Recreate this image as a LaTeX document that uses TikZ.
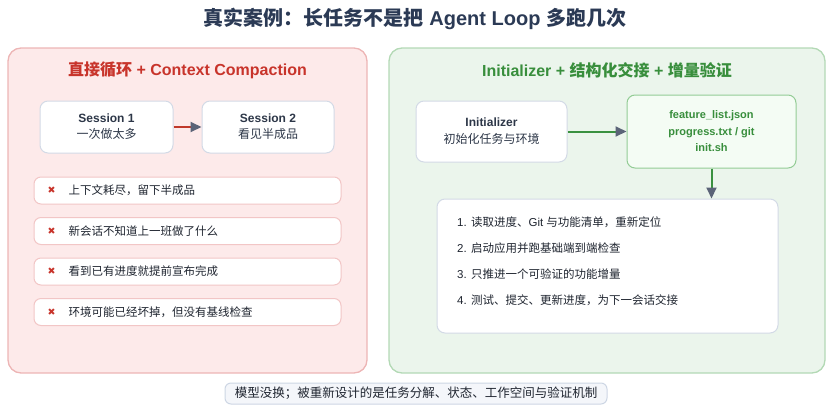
\documentclass[tikz,border=0pt]{standalone}
\usepackage{fontspec}
\setmainfont{Liberation Sans}
\newfontfamily\cjkfont{Noto Sans CJK SC}
\newfontfamily\symfont{DejaVu Sans}
\XeTeXinterchartokenstate=1
\newXeTeXintercharclass\CJKcls
\newcount\cjkc
\cjkc="4E00
\loop \XeTeXcharclass\cjkc=\CJKcls \advance\cjkc by 1 \ifnum\cjkc<"A000 \repeat
\cjkc="3000
\loop \XeTeXcharclass\cjkc=\CJKcls \advance\cjkc by 1 \ifnum\cjkc<"3040 \repeat
\cjkc="FF00
\loop \XeTeXcharclass\cjkc=\CJKcls \advance\cjkc by 1 \ifnum\cjkc<"FF60 \repeat
\XeTeXinterchartoks 0 \CJKcls = {\cjkfont}
\XeTeXinterchartoks 4095 \CJKcls = {\cjkfont}
\XeTeXinterchartoks \CJKcls 0 = {\rmfamily}
\XeTeXinterchartoks \CJKcls 4095 = {\rmfamily}
\usetikzlibrary{arrows.meta}
\definecolor{titlec}{HTML}{2B3A55}
\definecolor{redt}{HTML}{C8342B}
\definecolor{greent}{HTML}{388E3C}
\definecolor{plfill}{HTML}{FDEAEA}
\definecolor{pldraw}{HTML}{EDB5B5}
\definecolor{prfill}{HTML}{EBF5EC}
\definecolor{prdraw}{HTML}{B3D9B5}
\definecolor{boxdraw}{HTML}{D3DAE6}
\definecolor{bulletdraw}{HTML}{F2C6C6}
\definecolor{filesfill}{HTML}{F4FCF4}
\definecolor{filesdraw}{HTML}{93CC95}
\definecolor{headgray}{HTML}{5B6478}
\definecolor{botfill}{HTML}{F4F6FA}
\definecolor{botdraw}{HTML}{CDD6E4}
\definecolor{txt}{HTML}{2D3748}
\definecolor{dtxt}{HTML}{1F2530}
\definecolor{redline}{HTML}{C0392B}
\definecolor{greenline}{HTML}{3A9140}
\begin{document}
\begin{tikzpicture}[x=1pt,y=-1pt,
  maintitle/.style={font=\fontsize{20}{24}\selectfont\bfseries, text=titlec, inner sep=0pt},
  paneltitle/.style={font=\fontsize{16}{20}\selectfont\bfseries, inner sep=0pt},
  panelbox/.style={rounded corners=13pt, line width=1.3pt},
  whitebox/.style={fill=white, draw=boxdraw, line width=1pt, rounded corners=8pt, align=center, text=txt, inner sep=0pt},
  bulletbox/.style={fill=white, draw=bulletdraw, line width=1pt, rounded corners=7pt, minimum width=307pt, minimum height=27pt, inner sep=0pt},
  xmark/.style={font=\symfont\fontsize{9.5}{9.5}\selectfont, text=redt, inner sep=0pt},
  btext/.style={font=\fontsize{11.5}{14}\selectfont, text=dtxt, anchor=west, inner sep=0pt},
  arr/.style={line width=2pt, -{Triangle[length=11pt,width=10pt,color=headgray]}}
]
\useasboundingbox (0,0) rectangle (830,410);

\node[maintitle] (title) at (415,19) {真实案例：长任务不是把 Agent Loop 多跑几次};

% left panel
\node[panelbox, fill=plfill, draw=pldraw, minimum width=359pt, minimum height=325pt] (pl) at (187.5,210.5) {};
\node[paneltitle, text=redt] (lt) at (187.5,70) {直接循环 + Context Compaction};
\node[whitebox, minimum width=133pt, minimum height=52pt, font=\fontsize{12}{16}\selectfont] (s1) at (106.5,127) {\textbf{Session 1}\\一次做太多};
\node[whitebox, minimum width=132pt, minimum height=52pt, font=\fontsize{12}{16}\selectfont] (s2) at (268,127) {\textbf{Session 2}\\看见半成品};
\draw[arr, draw=redline] (s1) -- (s2);

\node[bulletbox] (b1) at (187.5,190.5) {};
\node[bulletbox] (b2) at (187.5,231) {};
\node[bulletbox] (b3) at (187.5,271.5) {};
\node[bulletbox] (b4) at (187.5,312) {};
\node[xmark] (x1) at ([xshift=18pt]b1.west) {✖};
\node[xmark] (x2) at ([xshift=18pt]b2.west) {✖};
\node[xmark] (x3) at ([xshift=18pt]b3.west) {✖};
\node[xmark] (x4) at ([xshift=18pt]b4.west) {✖};
\node[btext] (t1) at ([xshift=35pt]b1.west) {上下文耗尽，留下半成品};
\node[btext] (t2) at ([xshift=35pt]b2.west) {新会话不知道上一班做了什么};
\node[btext] (t3) at ([xshift=35pt]b3.west) {看到已有进度就提前宣布完成};
\node[btext] (t4) at ([xshift=35pt]b4.west) {环境可能已经坏掉，但没有基线检查};

% right panel
\node[panelbox, fill=prfill, draw=prdraw, minimum width=436pt, minimum height=325pt] (pr) at (607,210.5) {};
\node[paneltitle, text=greent] (rt) at (607,70) {Initializer + 结构化交接 + 增量验证};
\node[whitebox, minimum width=151pt, minimum height=61pt, font=\fontsize{12}{17}\selectfont] (ini) at (491.5,131.5) {\textbf{Initializer}\\初始化任务与环境};
\node[whitebox, fill=filesfill, draw=filesdraw, minimum width=169pt, minimum height=73pt, font=\fontsize{11}{16.5}\selectfont\bfseries, text=greent] (files) at (711.5,131.5) {feature\_list.json\\progress.txt / git\\init.sh};
\draw[arr, draw=greenline] (ini) -- (files);

\node[whitebox, minimum width=341pt, minimum height=134pt] (steps) at (607.5,266) {};
\draw[arr, draw=greenline] (files.south) -- (files.south |- steps.north);
\node[btext] (p1) at (457,222) {1. 读取进度、Git 与功能清单，重新定位};
\node[btext] (p2) at (457,248) {2. 启动应用并跑基础端到端检查};
\node[btext] (p3) at (457,274) {3. 只推进一个可验证的功能增量};
\node[btext] (p4) at (457,300) {4. 测试、提交、更新进度，为下一会话交接};

% bottom
\node[fill=botfill, draw=botdraw, line width=1pt, rounded corners=6pt, minimum width=382pt, minimum height=21pt, inner sep=0pt, font=\fontsize{12.5}{15}\selectfont, text=dtxt] (bot) at (416,393.5) {模型没换；被重新设计的是任务分解、状态、工作空间与验证机制};
\end{tikzpicture}
\end{document}
